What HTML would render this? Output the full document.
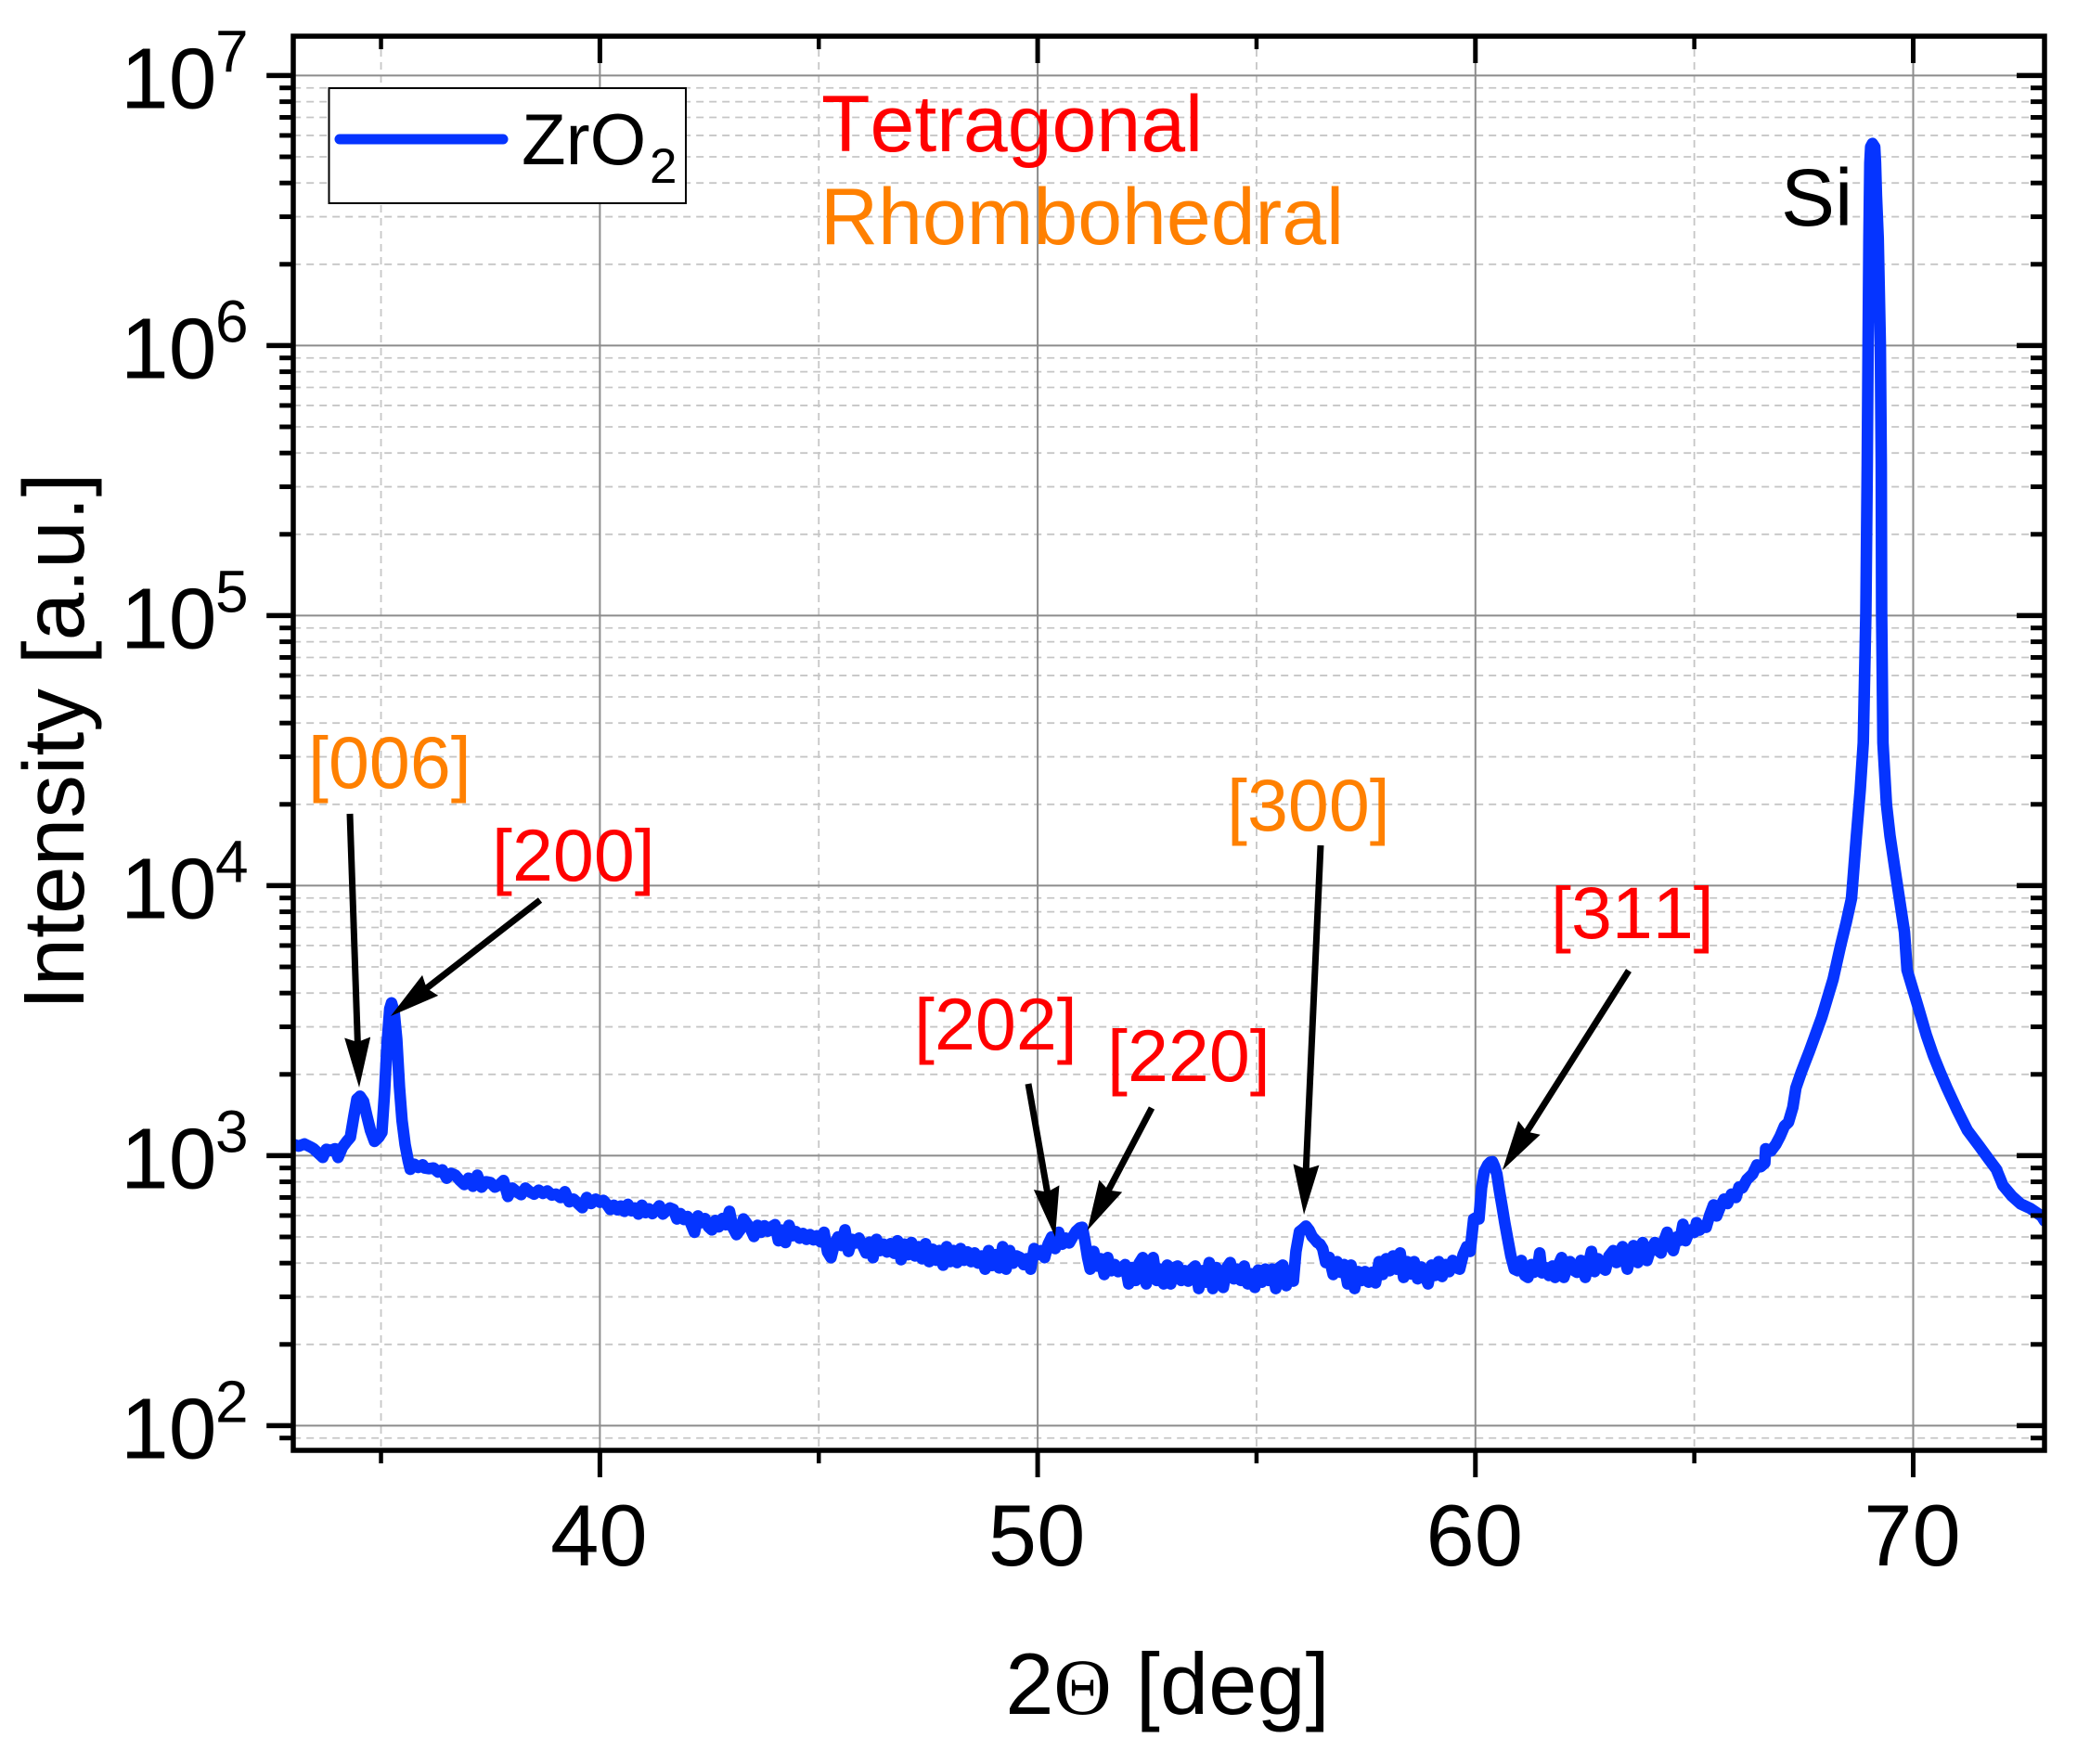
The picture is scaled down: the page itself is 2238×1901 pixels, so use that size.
<!DOCTYPE html>
<html lang="en">
<head>
<meta charset="utf-8">
<title>ZrO2 XRD pattern</title>
<style>
  html, body { margin: 0; padding: 0; background: #ffffff; }
  svg { display: block; }
  text { font-family: "Liberation Sans", sans-serif; font-kerning: none; }
</style>
</head>
<body>
<svg id="chart" xmlns="http://www.w3.org/2000/svg" width="2238" height="1901" viewBox="0 0 2238 1901">
  <defs>
    <clipPath id="plot-clip"><rect x="316" y="39" width="1887" height="1524"></rect></clipPath>
    <marker id="arrow-head" markerUnits="userSpaceOnUse" markerWidth="60" markerHeight="32" refX="24" refY="14" orient="auto">
      <path d="M0,0 L54,14 L0,28 L5,14 Z" fill="#000000"></path>
    </marker>
  </defs>
  <rect x="0" y="0" width="2238" height="1901" fill="#ffffff"></rect>
  <g id="grid"></g>
  <g id="series" clip-path="url(#plot-clip)"></g>

  <g>
    <text x="885" y="163" font-size="86" fill="#ff0000">Tetragonal</text>
    <text x="884" y="263" font-size="86" fill="#ff8000">Rhombohedral</text>
  </g>

  <g>
    <rect x="354.5" y="95" width="384.5" height="124" fill="#ffffff" stroke="#000000" stroke-width="2"></rect>
    <line x1="366" y1="150" x2="542" y2="150" stroke="#0534ff" stroke-width="11" stroke-linecap="round"></line>
    <text x="562" y="177" font-size="78" fill="#000000">ZrO</text>
    <text x="700" y="197" font-size="53" fill="#000000">2</text>
  </g>

  <text x="1919" y="243" font-size="87" fill="#000000">Si</text>

  <g font-size="79">
    <text x="332" y="849" fill="#ff8000">[006]</text>
    <text x="530" y="949" fill="#ff0000">[200]</text>
    <text x="985" y="1131" fill="#ff0000">[202]</text>
    <text x="1193" y="1165" fill="#ff0000">[220]</text>
    <text x="1322" y="895" fill="#ff8000">[300]</text>
    <text x="1671" y="1011" fill="#ff0000">[311]</text>
  </g>

  <g stroke="#000000" stroke-width="7">
    <line x1="377" y1="877" x2="386" y2="1142" marker-end="url(#arrow-head)"></line>
    <line x1="582" y1="970" x2="444.7" y2="1076.6" marker-end="url(#arrow-head)"></line>
    <line x1="1108" y1="1168" x2="1131.8" y2="1303.4" marker-end="url(#arrow-head)"></line>
    <line x1="1241" y1="1194" x2="1185.6" y2="1299.4" marker-end="url(#arrow-head)"></line>
    <line x1="1423" y1="911" x2="1406.4" y2="1279" marker-end="url(#arrow-head)"></line>
    <line x1="1755" y1="1046" x2="1635" y2="1235.6" marker-end="url(#arrow-head)"></line>
  </g>

  <g id="axes"></g>
  <rect x="316" y="39" width="1887" height="1524" fill="none" stroke="#000000" stroke-width="5.5"></rect>

  <text x="90" y="799" font-size="93" text-anchor="middle" fill="#000000" transform="rotate(-90 90 799)">Intensity [a.u.]</text>
  <text x="1258" y="1847" font-size="94" text-anchor="middle" fill="#000000">2<tspan font-family="Liberation Serif, serif" font-size="86">Θ</tspan> [deg]</text>
</svg>

<script>
const twoTheta = [
  33.0,33.12,33.25,33.4,33.46,33.6,33.67,33.75,33.85,33.95,
  34.02,34.12,34.22,34.3,34.38,34.45,34.52,34.6,34.68,34.76,
  34.85,34.95,35.02,35.08,35.14,35.2,35.24,35.3,35.36,35.42,
  35.48,35.55,35.62,35.67,35.76,35.85,35.95,36.0,36.1,36.2,
  36.3,36.4,36.5,36.6,36.7,36.8,36.9,37.0,37.1,37.2,
  37.3,37.4,37.5,37.6,37.7,37.8,37.9,38.0,38.1,38.2,
  38.3,38.4,38.5,38.6,38.7,38.8,38.9,39.0,39.1,39.2,
  39.3,39.4,39.5,39.6,39.7,39.8,39.9,40.0,40.08,40.16,
  40.24,40.32,40.4,40.48,40.56,40.64,40.72,40.8,40.88,40.96,
  41.04,41.12,41.2,41.28,41.36,41.44,41.52,41.6,41.68,41.76,
  41.84,41.92,42.0,42.08,42.16,42.24,42.32,42.4,42.48,42.56,
  42.64,42.72,42.8,42.88,42.96,43.04,43.12,43.2,43.28,43.36,
  43.44,43.52,43.6,43.68,43.76,43.84,43.92,44.0,44.08,44.16,
  44.24,44.32,44.4,44.48,44.56,44.64,44.72,44.8,44.88,44.96,
  45.04,45.12,45.2,45.28,45.36,45.44,45.52,45.6,45.68,45.76,
  45.84,45.92,46.0,46.08,46.16,46.24,46.32,46.4,46.48,46.56,
  46.64,46.72,46.8,46.88,46.96,47.04,47.12,47.2,47.28,47.36,
  47.44,47.52,47.6,47.68,47.76,47.84,47.92,48.0,48.08,48.16,
  48.24,48.32,48.4,48.48,48.56,48.64,48.72,48.8,48.88,48.96,
  49.04,49.12,49.2,49.28,49.36,49.44,49.52,49.6,49.68,49.76,
  49.84,49.92,50.0,50.08,50.16,50.24,50.32,50.4,50.48,50.56,
  50.64,50.72,50.8,50.88,50.96,51.02,51.08,51.14,51.2,51.28,
  51.36,51.44,51.52,51.6,51.68,51.76,51.84,51.92,52.0,52.08,
  52.16,52.24,52.32,52.4,52.48,52.56,52.64,52.72,52.8,52.88,
  52.96,53.04,53.12,53.2,53.28,53.36,53.44,53.52,53.6,53.68,
  53.76,53.84,53.92,54.0,54.08,54.16,54.24,54.32,54.4,54.48,
  54.56,54.64,54.72,54.8,54.88,54.96,55.04,55.12,55.2,55.28,
  55.36,55.44,55.52,55.6,55.68,55.76,55.84,55.9,55.98,56.06,
  56.13,56.2,56.27,56.33,56.39,56.45,56.51,56.58,56.66,56.75,
  56.84,56.92,57.0,57.08,57.16,57.24,57.32,57.4,57.48,57.56,
  57.64,57.72,57.8,57.88,57.96,58.04,58.12,58.2,58.28,58.36,
  58.44,58.52,58.6,58.68,58.76,58.84,58.92,59.0,59.08,59.16,
  59.24,59.32,59.4,59.48,59.56,59.64,59.72,59.8,59.88,59.96,
  60.02,60.08,60.14,60.2,60.28,60.34,60.39,60.44,60.49,60.55,
  60.61,60.67,60.73,60.81,60.89,60.97,61.05,61.13,61.2,61.28,
  61.34,61.42,61.47,61.52,61.6,61.68,61.76,61.82,61.9,61.97,
  62.02,62.09,62.16,62.24,62.32,62.41,62.51,62.58,62.65,62.72,
  62.8,62.88,62.97,63.05,63.15,63.22,63.3,63.36,63.42,63.47,
  63.55,63.61,63.66,63.71,63.77,63.82,63.87,63.92,64.0,64.1,
  64.17,64.24,64.31,64.38,64.45,64.52,64.6,64.67,64.74,64.8,
  64.9,65.0,65.05,65.12,65.2,65.27,65.35,65.44,65.51,65.6,
  65.68,65.76,65.85,65.95,66.02,66.1,66.2,66.33,66.43,66.52,
  66.61,66.63,66.75,66.86,66.96,67.06,67.15,67.25,67.32,67.45,
  67.63,67.91,68.17,68.34,68.47,68.59,68.7,68.79,68.86,68.92,
  68.95,68.97,68.99,69.01,69.03,69.07,69.12,69.14,69.16,69.2,
  69.25,69.27,69.28,69.31,69.39,69.47,69.59,69.8,69.86,70.12,
  70.3,70.46,70.62,70.77,71.0,71.24,71.5,71.73,71.9,72.05,
  72.25,72.45,72.68,72.93,73.0
];
const intensity = [
  1100,1085,1105,1075,1060,1010,985,1055,1045,1060,
  985,1075,1130,1170,1400,1620,1659,1590,1400,1240,
  1130,1170,1220,1700,2600,3500,3677,3400,2700,1800,
  1350,1100,960,890,930,905,925,900,895,900,
  870,885,825,860,846,810,782,825,770,846,
  765,800,795,765,780,808,706,758,735,717,
  758,735,720,745,725,740,715,720,700,735,
  675,690,665,642,700,665,690,672,683,660,
  632,655,630,650,622,660,625,640,608,655,
  615,635,610,630,652,608,625,640,632,583,
  610,580,595,560,520,598,565,585,545,531,
  575,545,585,555,622,540,510,530,583,560,
  535,502,552,520,550,525,545,555,484,530,
  477,552,505,523,495,515,490,510,488,505,
  480,520,440,419,472,500,465,531,442,490,
  475,495,465,436,478,419,490,445,470,440,
  472,435,484,412,470,430,477,425,460,415,
  472,405,450,410,445,393,460,405,445,402,
  453,410,440,405,436,400,425,380,445,392,
  430,384,460,380,445,400,425,419,395,415,
  380,453,430,445,419,470,500,453,520,470,
  495,475,500,525,540,543,484,420,380,442,
  390,415,363,419,375,395,372,385,395,335,
  385,345,400,419,335,395,419,345,380,335,
  393,335,385,390,345,375,343,380,390,322,
  375,340,402,322,385,345,325,385,402,350,
  380,345,390,335,365,325,377,340,380,345,
  380,322,385,393,330,375,343,442,523,535,
  548,530,502,490,477,470,453,402,420,363,
  405,370,395,335,393,322,372,345,372,340,
  370,338,405,363,415,375,425,380,436,354,
  405,365,405,350,387,360,335,393,360,405,
  357,395,372,409,385,380,430,460,442,583,
  590,583,760,871,924,945,950,910,854,740,
  647,565,500,425,380,375,409,360,354,395,
  370,385,436,368,385,360,390,354,395,419,
  354,385,405,377,370,409,354,395,442,372,
  415,385,377,425,445,402,440,460,410,380,
  425,464,420,402,445,477,430,409,450,477,
  445,436,485,520,470,445,500,485,557,484,
  530,520,565,530,550,543,600,657,598,650,
  690,665,720,700,765,760,815,854,924,910,
  939,1060,1040,1100,1180,1288,1330,1509,1782,2050,
  2440,3250,4500,5980,7290,8960,15100,22600,33800,102000,
  363000,1000000,2500000,4750000,5440000,5600000,5440000,4750000,3600000,2500000,
  1000000,363000,102000,33800,20000,15300,11300,6730,4870,3520,
  2800,2350,2030,1782,1480,1239,1090,969,890,776,
  710,663,637,598,574
];
const xMajorTicks = [40, 50, 60, 70];
const xMinorTicks = [35, 45, 55, 65];
const yDecadeExponents = [2, 3, 4, 5, 6, 7];
const yMinorMultipliers = [2, 3, 4, 5, 6, 7, 8, 9];

const SVG_NS = 'http://www.w3.org/2000/svg';
const PLOT = { left: 316.2, right: 2203, top: 39, bottom: 1563 };
const X_DOMAIN = [33, 73];
const LOG_DOMAIN = [2, 7];
const Y_AT_LOG_MIN = 1536.4;
const Y_AT_LOG_MAX = 81.4;

function xScale(d) {
  return PLOT.left + (d - X_DOMAIN[0]) / (X_DOMAIN[1] - X_DOMAIN[0]) * (PLOT.right - PLOT.left);
}
function yScale(v) {
  return Y_AT_LOG_MIN + (Math.log10(v) - LOG_DOMAIN[0]) / (LOG_DOMAIN[1] - LOG_DOMAIN[0]) * (Y_AT_LOG_MAX - Y_AT_LOG_MIN);
}
function lineEl(parent, x1, y1, x2, y2, color, width, dash) {
  const el = document.createElementNS(SVG_NS, 'line');
  el.setAttribute('x1', x1);
  el.setAttribute('y1', y1);
  el.setAttribute('x2', x2);
  el.setAttribute('y2', y2);
  el.setAttribute('stroke', color);
  el.setAttribute('stroke-width', width);
  if (dash) el.setAttribute('stroke-dasharray', dash);
  parent.appendChild(el);
  return el;
}
function textEl(parent, x, y, size, anchor, content) {
  const el = document.createElementNS(SVG_NS, 'text');
  el.setAttribute('x', x);
  el.setAttribute('y', y);
  el.setAttribute('font-size', size);
  el.setAttribute('text-anchor', anchor);
  el.setAttribute('fill', '#000000');
  el.textContent = content;
  parent.appendChild(el);
  return el;
}

const grid = document.getElementById('grid');
const axes = document.getElementById('axes');
const series = document.getElementById('series');

const MINOR_GRID = '#c6c6c6';
const MAJOR_GRID = '#8c8c8c';
const MINOR_DASH = '8 6';

xMinorTicks.forEach(function (d) {
  const x = xScale(d);
  const g = lineEl(grid, x, PLOT.top, x, PLOT.bottom, MINOR_GRID, 1.8, MINOR_DASH);
  
  
  const b = lineEl(axes, x, PLOT.bottom, x, PLOT.bottom + 14, '#000000', 4.5);
  
  
  const t = lineEl(axes, x, PLOT.top, x, PLOT.top + 14, '#000000', 4.5);
  
  
});

yDecadeExponents.forEach(function (e) {
  yMinorMultipliers.forEach(function (m) {
    const v = m * Math.pow(10, e - 1);
    const y = yScale(v);
    if (y > PLOT.bottom || y < PLOT.top) return;
    const g = lineEl(grid, PLOT.left, y, PLOT.right, y, MINOR_GRID, 1.8, MINOR_DASH);
    
    
    const l = lineEl(axes, PLOT.left - 15, y, PLOT.left, y, '#000000', 5);
    
    
    const r = lineEl(axes, PLOT.right - 15, y, PLOT.right, y, '#000000', 5);
    
    
  });
});

xMajorTicks.forEach(function (d) {
  const x = xScale(d);
  const g = lineEl(grid, x, PLOT.top, x, PLOT.bottom, MAJOR_GRID, 2);
  
  
  const b = lineEl(axes, x, PLOT.bottom, x, PLOT.bottom + 29, '#000000', 5);
  
  
  const t = lineEl(axes, x, PLOT.top, x, PLOT.top + 29, '#000000', 5);
  
  
  const label = textEl(axes, x - 1, 1687, 94, 'middle', String(d));
  
  
});

yDecadeExponents.forEach(function (e) {
  const y = yScale(Math.pow(10, e));
  const g = lineEl(grid, PLOT.left, y, PLOT.right, y, MAJOR_GRID, 2);
  
  
  const l = lineEl(axes, PLOT.left - 29, y, PLOT.left, y, '#000000', 5.5);
  
  
  const r = lineEl(axes, PLOT.right - 30, y, PLOT.right, y, '#000000', 5.5);
  
  
  const base = textEl(axes, 130, y + 35, 93, 'start', '10');
  
  
  const sup = textEl(axes, 232, y - 4, 64, 'start', String(e));
  
  
});

const pathPoints = twoTheta.map(function (d, i) {
  return xScale(d).toFixed(1) + ',' + yScale(intensity[i]).toFixed(1);
});
const curve = document.createElementNS(SVG_NS, 'polyline');


curve.setAttribute('points', pathPoints.join(' '));
curve.setAttribute('fill', 'none');
curve.setAttribute('stroke', '#0534ff');
curve.setAttribute('stroke-width', '12.5');
curve.setAttribute('stroke-linejoin', 'round');
curve.setAttribute('stroke-linecap', 'round');
series.appendChild(curve);
</script>
</body>
</html>
